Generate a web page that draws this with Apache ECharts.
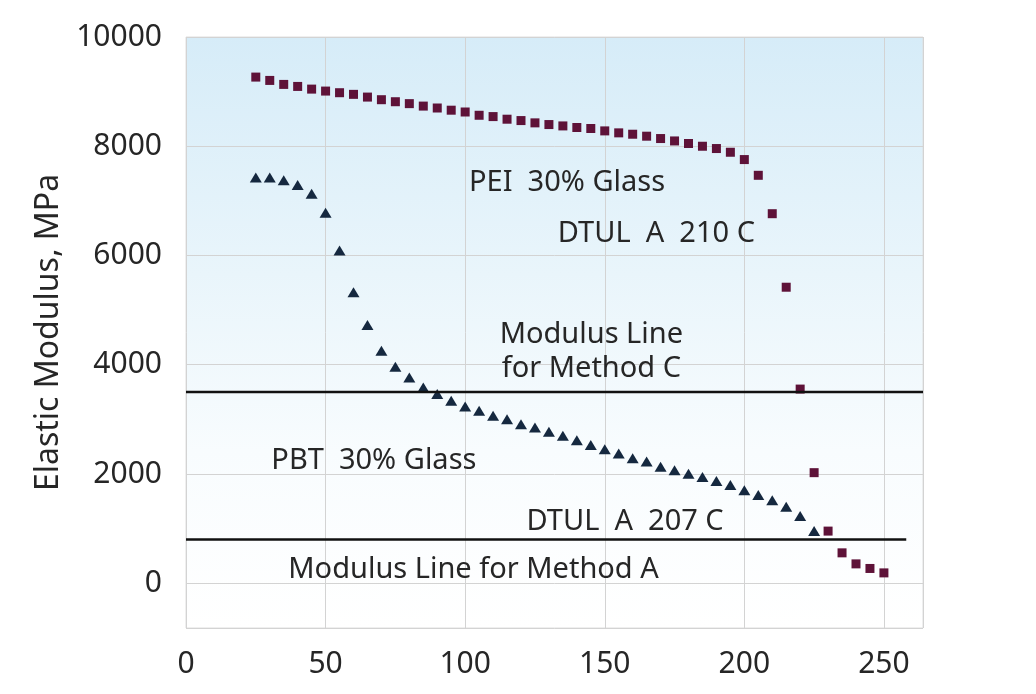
<!DOCTYPE html>
<html><head><meta charset="utf-8">
<script src="https://cdn.jsdelivr.net/npm/echarts@6/dist/echarts.min.js"></script>
<style>html,body{margin:0;padding:0;background:#fff}#c{width:1036px;height:694px}</style>
</head><body><div id="c"></div>
<script>
// Temperatures (C)
const peiTemps = [25,30,35,40,45,50,55,60,65,70,75,80,85,90,95,100,105,110,115,120,125,130,135,140,145,150,155,160,165,170,175,180,185,190,195,200,205,210,215,220,225,230,235,240,245,250];
const peiModulus = [9266,9205,9132,9095,9046,9010,8980,8950,8900,8852,8815,8780,8735,8700,8660,8627,8567,8543,8495,8470,8428,8397,8372,8343,8325,8281,8245,8220,8184,8141,8097,8050,8000,7958,7890,7756,7468,6765,5419,3554,2024,954,556,354,270,189];
const pbtTemps = [25,30,35,40,45,50,55,60,65,70,75,80,85,90,95,100,105,110,115,120,125,130,135,140,145,150,155,160,165,170,175,180,185,190,195,200,205,210,215,220,225];
const pbtModulus = [7430,7430,7377,7290,7132,6784,6092,5327,4728,4257,3964,3767,3584,3462,3340,3236,3156,3065,3004,2912,2850,2771,2698,2618,2532,2453,2373,2288,2226,2134,2068,2006,1945,1872,1798,1701,1615,1517,1400,1229,954];
// Modulus reference lines
const methodCLine = {y: 3500, xFrom: 0, xTo: 264};
const methodALine = {y: 800, xFrom: 0, xTo: 258};
// Axis ticks
const xTicks = [0,50,100,150,200,250];
const yTicks = [0,2000,4000,6000,8000,10000];
// Annotations (text and data-space centre)
const annoTexts = ['PEI  30% Glass','DTUL  A  210 C','Modulus Line\nfor Method C','PBT  30% Glass','DTUL  A  207 C','Modulus Line for Method A'];
const annoX = [136.5, 168.5, 145.2, 67.3, 157.3, 103];
const annoY = [7341, 6407, 4235, 2248, 1130, 251];

const FONT = 'Noto Sans';
const TXT = '#262626';
const chart = echarts.init(document.getElementById('c'));
chart.setOption({
  animation: false,
  backgroundColor: '#ffffff',
  grid: {
    left: 186, right: 113, top: 37, bottom: 66,
    show: true,
    borderColor: '#dedede', borderWidth: 1,
    backgroundColor: {type:'linear', x:0, y:0, x2:0, y2:1, colorStops:[
      {offset:0, color:'#d6ecf8'},
      {offset:0.4, color:'#e9f5fb'},
      {offset:0.7, color:'#f8fcfe'},
      {offset:1, color:'#ffffff'}
    ]}
  },
  xAxis: {
    type: 'value', min: 0, max: 264, interval: 50,
    axisLine: {show:false}, axisTick: {show:false},
    splitLine: {show:true, lineStyle:{color:'#d3d3d3', width:1}},
    axisLabel: {
      margin: 21, color: TXT, fontFamily: FONT, fontSize: 30,
      formatter: v => xTicks.indexOf(v) >= 0 ? String(v) : ''
    }
  },
  yAxis: {
    type: 'value', min: -820, max: 10000, splitNumber: 5,
    name: 'Elastic Modulus, MPa', nameLocation: 'middle', nameGap: 113, nameRotate: 90,
    nameTextStyle: {color: TXT, fontFamily: FONT, fontSize: 32},
    axisLine: {show:false}, axisTick: {show:false},
    splitLine: {show:true, lineStyle:{color:'#d3d3d3', width:1}},
    axisLabel: {
      margin: 24, color: TXT, fontFamily: FONT, fontSize: 30,
      formatter: v => yTicks.indexOf(v) >= 0 ? String(v) : ''
    }
  },
  series: [
    {
      name: 'Method C', type: 'line', symbol: 'none', silent: true,
      lineStyle: {color:'#111111', width: 2.5},
      data: [[methodCLine.xFrom, methodCLine.y],[methodCLine.xTo, methodCLine.y]]
    },
    {
      name: 'Method A', type: 'line', symbol: 'none', silent: true,
      lineStyle: {color:'#111111', width: 2.5},
      data: [[methodALine.xFrom, methodALine.y],[methodALine.xTo, methodALine.y]]
    },
    {
      name: 'PEI 30% Glass', type: 'scatter', symbol: 'rect', symbolSize: 9,
      itemStyle: {color:'#5e1238', opacity: 1},
      data: peiTemps.map((t,i)=>[t, peiModulus[i]])
    },
    {
      name: 'PBT 30% Glass', type: 'scatter', symbol: 'triangle', symbolSize: [12,10],
      itemStyle: {color:'#15283f', opacity: 1},
      data: pbtTemps.map((t,i)=>[t, pbtModulus[i]])
    },
    {
      name: 'annotations', type: 'scatter', symbolSize: 0, silent: true, z: 5,
      itemStyle: {opacity: 1},
      label: {
        show: true, position: 'inside', formatter: p => p.name, opacity: 1,
        color: TXT, fontFamily: FONT, fontSize: 29, lineHeight: 34
      },
      data: annoTexts.map((s,i)=>({name: s, value: [annoX[i], annoY[i]]}))
    }
  ]
});
</script></body></html>
